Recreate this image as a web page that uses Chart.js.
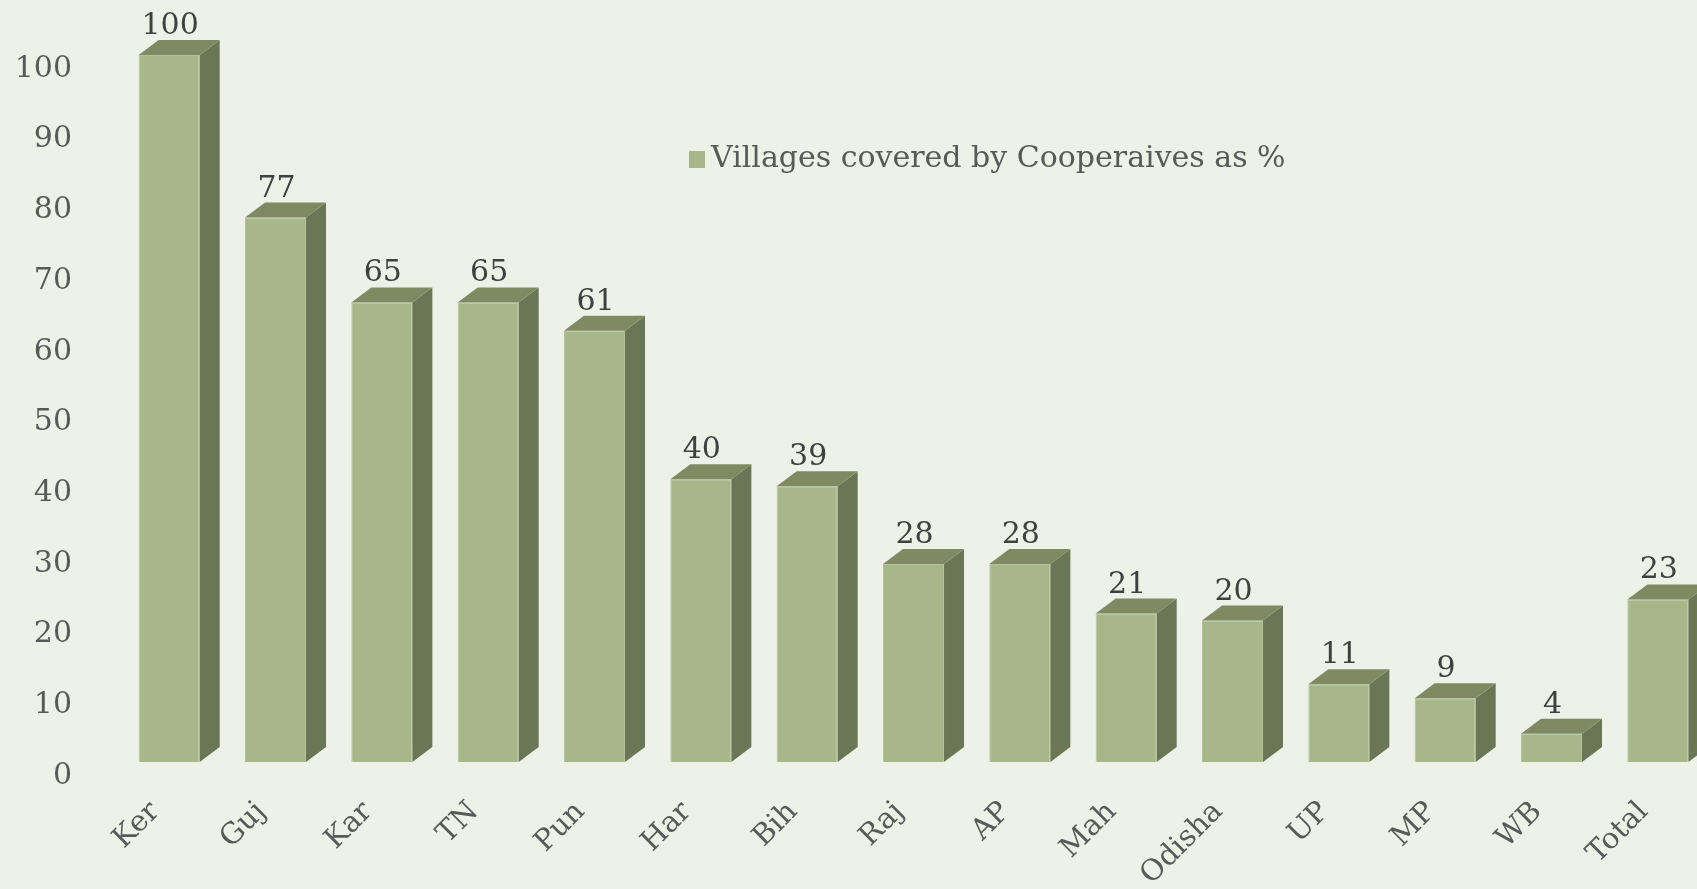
<!DOCTYPE html>
<html>
<head>
<meta charset="utf-8">
<script src="https://cdn.jsdelivr.net/npm/chart.js@4.4.1/dist/chart.umd.min.js"></script>
<style>
  html, body { margin: 0; padding: 0; background: #EEF1E8; overflow: hidden; }
  #wrap { width: 1697px; height: 889px; overflow: hidden; }
  canvas { display: block; }
</style>
</head>
<body>
<div id="wrap"><canvas id="chart" width="1720" height="889"></canvas></div>
<script>
// data
const states = ['Ker', 'Guj', 'Kar', 'TN', 'Pun', 'Har', 'Bih', 'Raj', 'AP', 'Mah', 'Odisha', 'UP', 'MP', 'WB', 'Total'];
const coveragePct = [100, 77, 65, 65, 61, 40, 39, 28, 28, 21, 20, 11, 9, 4, 23];
const seriesName = 'Villages covered by Cooperaives as %';

const FRONT = '#A7B78A';
const SIDE = '#6A7656';
const TOP = '#7F8A63';
const AXIS_TEXT = '#595959';
const LABEL_TEXT = '#404040';
const FONT = "'DejaVu Serif', serif";

// fake 3D depth of each box
const DEPTH_X = 20;
const DEPTH_Y = 15;

const box3d = {
    id: 'box3d',
    afterDatasetsDraw(chart) {
        const ctx = chart.ctx;
        const values = chart.data.datasets[0].data;
        ctx.save();
        chart.getDatasetMeta(0).data.forEach((bar, i) => {
            const { x, y, base, width } = bar.getProps(['x', 'y', 'base', 'width'], true);
            const l = x - width / 2, r = x + width / 2;

            // right side face
            ctx.fillStyle = SIDE;
            ctx.beginPath();
            ctx.moveTo(r, y);
            ctx.lineTo(r + DEPTH_X, y - DEPTH_Y);
            ctx.lineTo(r + DEPTH_X, base - DEPTH_Y);
            ctx.lineTo(r, base);
            ctx.closePath();
            ctx.fill();

            // top face
            ctx.fillStyle = TOP;
            ctx.beginPath();
            ctx.moveTo(l, y);
            ctx.lineTo(l + DEPTH_X, y - DEPTH_Y);
            ctx.lineTo(r + DEPTH_X, y - DEPTH_Y);
            ctx.lineTo(r, y);
            ctx.closePath();
            ctx.fill();

            // value label
            ctx.fillStyle = LABEL_TEXT;
            ctx.font = `30px ${FONT}`;
            ctx.textAlign = 'center';
            ctx.textBaseline = 'alphabetic';
            ctx.fillText(String(values[i]), x + 1, y - DEPTH_Y - 6);
        });
        ctx.restore();
    }
};

// legend floats inside the plot, drawn by hand
const floatingLegend = {
    id: 'floatingLegend',
    afterDraw(chart) {
        const ctx = chart.ctx;
        ctx.save();
        ctx.fillStyle = FRONT;
        ctx.fillRect(689, 151, 16, 17);
        ctx.fillStyle = AXIS_TEXT;
        ctx.font = `30px ${FONT}`;
        ctx.textAlign = 'left';
        ctx.textBaseline = 'middle';
        ctx.fillText(chart.data.datasets[0].label, 711, 159);
        ctx.restore();
    }
};

new Chart(document.getElementById('chart'), {
    type: 'bar',
    data: {
        labels: states,
        datasets: [{
            label: seriesName,
            data: coveragePct,
            backgroundColor: FRONT,
            borderColor: '#B4C39B',
            borderWidth: 1,
            barPercentage: 0.574,
            categoryPercentage: 1
        }]
    },
    options: {
        responsive: false,
        animation: false,
        devicePixelRatio: 1,
        layout: { padding: { top: 55, right: 9, left: 0, bottom: 0 } },
        plugins: {
            legend: { display: false },
            tooltip: { enabled: false }
        },
        scales: {
            x: {
                grid: { display: false, drawTicks: false },
                border: { display: false },
                ticks: {
                    color: AXIS_TEXT,
                    font: { family: FONT, size: 29 },
                    autoSkip: false,
                    maxRotation: 45,
                    minRotation: 45,
                    labelOffset: -14,
                    padding: 33
                },
                afterFit: (scale) => {
                    scale.height = 127;
                    scale.paddingLeft = 0;
                    scale.paddingRight = 0;
                }
            },
            y: {
                min: 0,
                max: 100,
                grid: { display: false, drawTicks: false },
                border: { display: false },
                ticks: {
                    stepSize: 10,
                    color: AXIS_TEXT,
                    font: { family: FONT, size: 30 },
                    padding: 44,
                    labelOffset: 14
                },
                afterFit: (scale) => {
                    scale.width = 116;
                    scale.paddingTop = 0;
                    scale.paddingBottom = 0;
                }
            }
        }
    },
    plugins: [box3d, floatingLegend]
});
</script>
</body>
</html>
